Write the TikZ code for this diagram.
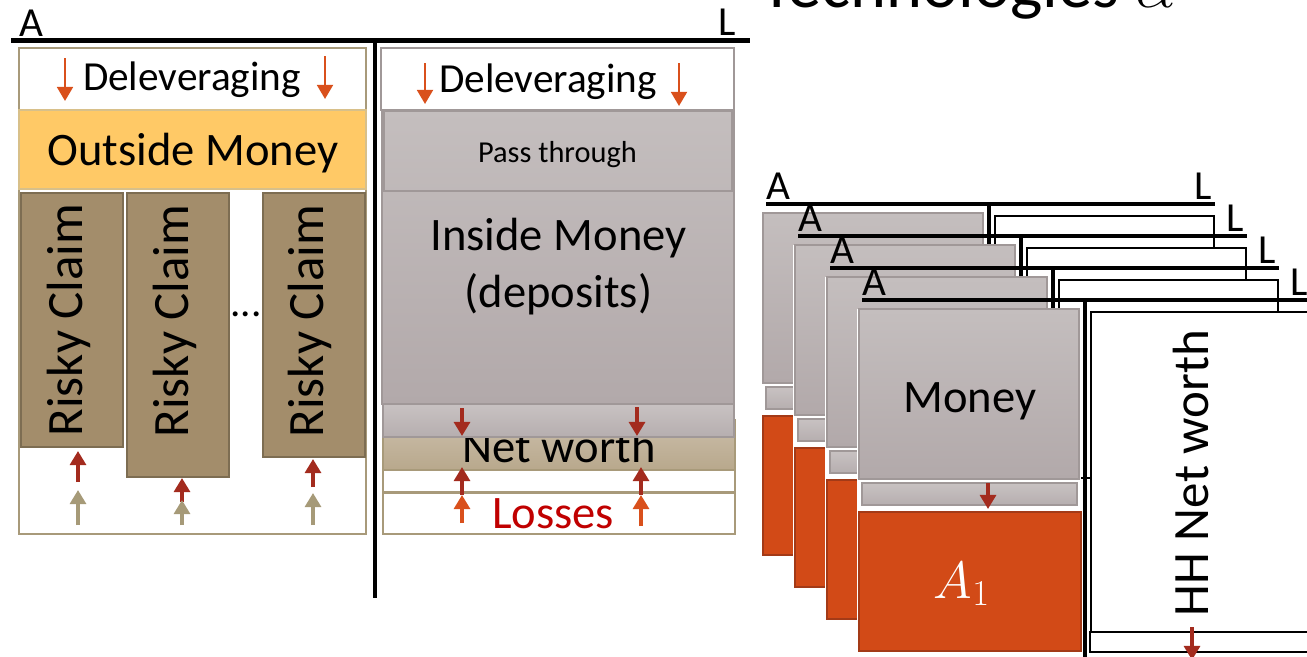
\documentclass[tikz,border=0pt]{standalone}
\usepackage{fontspec}
\setmainfont{Carlito}
\usepackage{amsmath}
\usetikzlibrary{arrows.meta}
\definecolor{tanline}{HTML}{A89A7A}
\definecolor{outside}{HTML}{FFC966}
\definecolor{outsideline}{HTML}{D8C08A}
\definecolor{risky}{HTML}{A38D6B}
\definecolor{riskyline}{HTML}{7D6D52}
\definecolor{darkred}{HTML}{A32B1E}
\definecolor{delev}{HTML}{D9501C}
\definecolor{tanarrow}{HTML}{A69A78}
\definecolor{greytop}{HTML}{C4BEBE}
\definecolor{greybot}{HTML}{B2A9AA}
\definecolor{striptop}{HTML}{C8C2C2}
\definecolor{stripbot}{HTML}{B6AEAF}
\definecolor{greyline}{HTML}{A09898}
\definecolor{nwtop}{HTML}{CBBEAA}
\definecolor{nwbot}{HTML}{B8A88C}
\definecolor{lossred}{HTML}{C00000}
\definecolor{claimorange}{HTML}{D24A17}
\definecolor{claimline}{HTML}{A33A17}

\begin{document}
\begin{tikzpicture}[x=0.02cm,y=-0.02cm,
  lbl/.style={inner sep=0pt,anchor=base,font=\fontsize{23.5}{28}\selectfont},
  big/.style={inner sep=0pt,anchor=base,font=\fontsize{26.5}{32}\selectfont},
  rot/.style={big,rotate=90,font=\fontsize{29}{34}\selectfont},
  arr/.style={-{Triangle[length=8pt,width=9pt]},line width=2.2pt},
  slim/.style={-{Triangle[length=8pt,width=9pt]},line width=1.4pt,delev},
  bar/.style={line width=1.8pt},
  greybox/.style={draw=greyline,line width=0.8pt,top color=greytop,bottom color=greybot},
  stripbox/.style={draw=greyline,line width=0.8pt,top color=striptop,bottom color=stripbot},
  tanbox/.style={draw=tanline,line width=1.1pt,fill=white},
  claim/.style={draw=riskyline,line width=1.2pt,fill=risky},
  orangebox/.style={draw=claimline,line width=1.2pt,fill=claimorange}]

\useasboundingbox (0,0) rectangle (1307,656);
\clip (0,0) rectangle (1307,656);

\node[inner sep=0pt,anchor=base west,font=\fontsize{39}{44}\selectfont] (tech) at (760,7) {Technologies \scalebox{1.5}{$\alpha$}};

\draw[line width=2.8pt] (11,40.5) -- (750,40.5);
\draw[line width=2.3pt] (375,43) -- (375,598);
\node[lbl] (bA) at (31.5,36) {A};
\node[lbl] (bL) at (727,35) {L};

\path[tanbox] (19,48) rectangle (366,534);
\path[draw=outsideline,line width=1pt,fill=outside] (19,110) rectangle (366,189);
\path[claim] (21,193) rectangle (123,447);
\path[claim] (127,193) rectangle (229,477);
\path[claim] (263,193) rectangle (365,457);
\node[lbl] (dl1) at (192,90) {Deleveraging};
\node[big] (om) at (193,165) {Outside Money};
\node[rot] (rc1) at (82,320) {Risky Claim};
\node[rot] (rc2) at (188,321) {Risky Claim};
\node[rot] (rc3) at (323,321) {Risky Claim};
\node[lbl] (dots) at (246,316) {...};
\draw[slim] (65,58) -- (65,101);
\draw[slim] (325,56) -- (325,99);
\draw[arr,darkred] (78,482) -- (78,451);
\draw[arr,tanarrow] (78,525) -- (78,490);
\draw[arr,darkred] (182,502) -- (182,478);
\draw[arr,tanarrow] (182,525) -- (182,500);
\draw[arr,darkred] (313,487) -- (313,459);
\draw[arr,tanarrow] (313,525) -- (313,493);

\path[draw=greyline,line width=1pt,fill=white] (381,48) rectangle (734,110);
\path[greybox] (382,110) rectangle (734,404);
\path[draw=greyline,line width=0.8pt] (384,111) rectangle (732,191);
\path[draw=tanline,line width=1pt,top color=nwtop,bottom color=nwbot] (383,420) rectangle (735,470);
\node[big] (nw) at (559,462) {Net worth};
\path[stripbox] (383,404) rectangle (734,437);
\path[tanbox] (383,470) rectangle (735,492);
\path[tanbox] (383,493) rectangle (735,534);
\node[lbl] (dl2) at (548,92) {Deleveraging};
\node[inner sep=0pt,anchor=base,font=\fontsize{17.3}{20}\selectfont] (pt) at (557.5,162) {Pass through};
\node[big] (im) at (558.5,250) {Inside Money};
\node[big] (dep) at (558.5,307) {(deposits)};
\node[big,text=lossred] (loss) at (553,528) {Losses};
\draw[slim] (425,63) -- (425,104);
\draw[slim] (679,63) -- (679,106);
\draw[arr,darkred] (462,408) -- (462,436);
\draw[arr,darkred] (637,407) -- (637,436);
\draw[arr,darkred] (462,495) -- (462,467);
\draw[arr,darkred] (641,495) -- (641,467);
\draw[arr,delev] (462,523) -- (462,495);
\draw[arr,delev] (641,526) -- (641,495);

\foreach \k in {0,1,2,3}{
  \pgfmathsetmacro{\d}{32*\k}
  \pgfmathsetmacro{\lb}{\k==3 ? 536 : 414}
  \begin{scope}[shift={(\d,\d)}]
    \fill[white] (761,213) rectangle (985,660);
    \draw[bar] (989,204) -- (989,660);
    \draw[fill=white,line width=1.1pt] (995,216) rectangle (1214,\lb);
    \path[greybox] (763,213) rectangle (983,383);
    \path[stripbox] (766,387) rectangle (981,409);
    \path[orangebox] (763,416) rectangle (985,555);
    \draw[bar] (766,204) -- (1215,204);
    \node[lbl] (tA\k) at (778,199) {A};
    \node[lbl] (tL\k) at (1203,199) {L};
  \end{scope}
}

\node[big] (money) at (970,412) {Money};
\node[big,text=white] (a1) at (962,598) {\scalebox{1.2}{$A_1$}};
\draw[arr,darkred] (988,483) -- (988,509);
\node[rot] (hh) at (1208,473) {HH Net worth};
\draw[fill=white,line width=1.1pt] (1090,632) rectangle (1312,652);
\draw[arr,darkred] (1192,627) -- (1192,660);
\end{tikzpicture}
\end{document}
